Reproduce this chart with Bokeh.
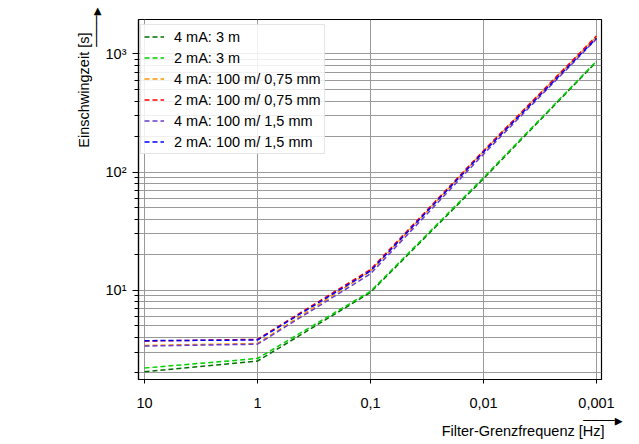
from bokeh.plotting import figure
from bokeh.models import Range1d, FixedTicker, Legend, LegendItem, Title
from bokeh.embed import file_html
from bokeh.resources import INLINE

# ---- data ----
freq = [10, 1, 0.1, 0.01, 0.001]
s_4mA_3m = [2.05, 2.52, 9.6, 88, 860]
s_2mA_3m = [2.2, 2.65, 9.8, 90, 870]
s_4mA_075 = [3.42, 3.55, 14.5, 150, 1400]
s_2mA_075 = [3.72, 3.85, 15.0, 152, 1420]
s_4mA_15 = [3.38, 3.5, 13.8, 142, 1340]
s_2mA_15 = [3.75, 3.8, 14.6, 148, 1360]

names = ["4 mA: 3 m", "2 mA: 3 m", "4 mA: 100 m/ 0,75 mm", "2 mA: 100 m/ 0,75 mm",
         "4 mA: 100 m/ 1,5 mm", "2 mA: 100 m/ 1,5 mm"]
series = [s_4mA_3m, s_2mA_3m, s_4mA_075, s_2mA_075, s_4mA_15, s_2mA_15]
colors = ["#007000", "#00d000", "#ff9400", "#ff0000", "#6a3bd0", "#0000ff"]

x_ticks = [10, 1, 0.1, 0.01, 0.001]
x_tick_labels = ["10", "1", "0,1", "0,01", "0,001"]
y_ticks = [10, 100, 1000]
y_tick_labels = ["10¹", "10²", "10³"]
y_minor = [m * d for d in (1, 10, 100, 1000) for m in range(2, 10)]

FONT = "Liberation Sans"
FS = "14.5px"
W, H = 639, 444

p = figure(width=W, height=H, x_axis_type="log", y_axis_type="log",
           x_range=Range1d(11.3, 0.000903), y_range=Range1d(1.76, 1958),
           output_backend="svg", toolbar_location=None,
           min_border_left=138, min_border_right=38, min_border_top=19, min_border_bottom=65)
p.background_fill_color = "white"
p.border_fill_color = "white"
p.outline_line_color = "black"
p.outline_line_width = 1.2

# grids
p.xgrid.ticker = FixedTicker(ticks=x_ticks)
p.ygrid.ticker = FixedTicker(ticks=y_ticks, minor_ticks=y_minor)
for g in (p.xgrid, p.ygrid):
    g.grid_line_color = "#999999"
    g.grid_line_width = 1
p.ygrid.minor_grid_line_color = "#999999"
p.ygrid.minor_grid_line_width = 1

# axes
p.xaxis.ticker = FixedTicker(ticks=x_ticks, minor_ticks=[])
p.xaxis.major_label_overrides = {t: l for t, l in zip(x_ticks, x_tick_labels)}
p.yaxis.ticker = FixedTicker(ticks=y_ticks, minor_ticks=y_minor)
p.yaxis.major_label_overrides = {t: l for t, l in zip(y_ticks, y_tick_labels)}
for ax in (p.xaxis, p.yaxis):
    ax.axis_line_color = "black"
    ax.axis_line_width = 1.2
    ax.major_tick_line_color = "black"
    ax.minor_tick_line_color = "black"
    ax.major_tick_in = 0
    ax.minor_tick_in = 0
    ax.major_label_text_font = FONT
    ax.major_label_text_font_size = FS
    ax.major_label_text_color = "black"
p.xaxis.major_tick_out = 4
p.xaxis.minor_tick_out = 0
p.xaxis.major_label_standoff = 14
p.yaxis.major_tick_out = 6
p.yaxis.minor_tick_out = 4
p.yaxis.major_label_standoff = 6

items = []
for name, ys, c in zip(names, series, colors):
    r = p.line(freq, ys, line_color=c, line_width=1.5, line_dash="5 3")
    items.append(LegendItem(label=name, renderers=[r]))

legend = Legend(items=items, location=(2, 225), orientation="vertical",
                label_text_font=FONT, label_text_font_size=FS, label_text_color="black",
                glyph_width=20, glyph_height=17, label_height=17, label_standoff=10,
                spacing=4, padding=3, margin=0,
                border_line_color="#cccccc", border_line_width=1,
                background_fill_color="white", background_fill_alpha=0.85)
p.add_layout(legend, "center")

# arrows (as text titles) and axis titles; inner panels first
ARROW = "────▶"
ARROW_FONT = "DejaVu Sans Mono"
ARROW_FS = "13px"
p.add_layout(Title(text=ARROW, align="right", offset=-12, standoff=-4, vertical_align="middle",
                   text_font=ARROW_FONT, text_font_size=ARROW_FS, text_font_style="normal",
                   text_color="black"), "left")
p.add_layout(Title(text="Einschwingzeit [s]", align="right", offset=13, standoff=-6,
                   vertical_align="middle",
                   text_font=FONT, text_font_size=FS, text_font_style="normal",
                   text_color="black"), "left")
p.add_layout(Title(text=ARROW, align="right", offset=-21, standoff=2, vertical_align="middle",
                   text_font=ARROW_FONT, text_font_size=ARROW_FS, text_font_style="normal",
                   text_color="black"), "below")
p.add_layout(Title(text="Filter-Grenzfrequenz [Hz]", align="right", offset=-3, standoff=-16,
                   vertical_align="middle",
                   text_font=FONT, text_font_size=FS, text_font_style="normal",
                   text_color="black"), "below")

open("out.html", "w").write(file_html(p, INLINE))
